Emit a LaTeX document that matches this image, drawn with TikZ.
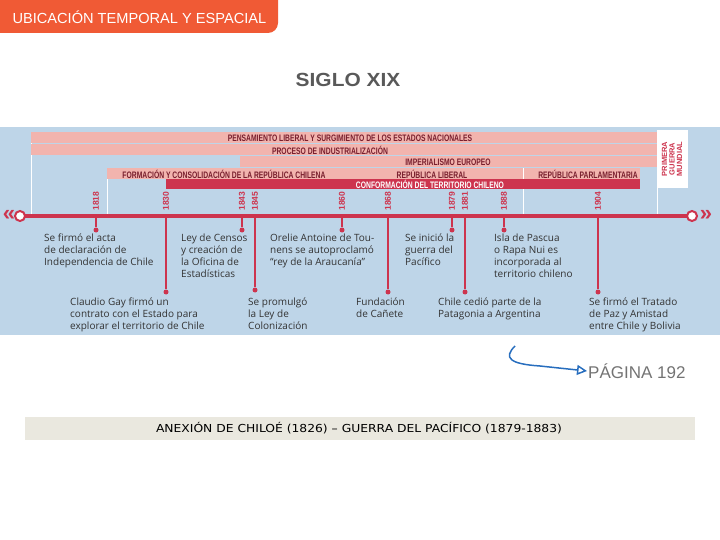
\documentclass[tikz,border=0pt]{standalone}
\usepackage{fontspec}
\setmainfont{Liberation Sans}
\newfontfamily\descfont{Open Sans}
\newfontfamily\barfont{DejaVu Sans}
\usetikzlibrary{arrows.meta,positioning}
\definecolor{tabred}{RGB}{240,90,53}
\definecolor{panel}{RGB}{190,213,232}
\definecolor{band}{RGB}{242,180,174}
\definecolor{dark}{RGB}{205,52,78}
\definecolor{bartext}{RGB}{120,30,45}
\definecolor{arrowblue}{RGB}{40,110,190}
\definecolor{barbg}{RGB}{234,232,223}
\tikzset{
  bandlbl/.style={font=\bfseries\fontsize{9.4}{9.4}\selectfont, text=bartext, inner sep=0pt},
  year/.style={font=\bfseries\fontsize{8.5}{8.5}\selectfont, text=dark, rotate=90, inner sep=0pt},
  dot/.style={circle, fill=dark, inner sep=0pt, minimum size=5pt},
  desc/.style={font=\descfont\fontsize{10}{12}\selectfont, text=black!80, align=left, anchor=north west, inner sep=0pt}
}
\begin{document}
\begin{tikzpicture}[x=1pt, y=-1pt]
    \useasboundingbox (0,0) rectangle (720,540);
    % Header tab
    \fill[tabred, rounded corners=10pt] (-10,-10) -- (278,-10) -- (278,33) -- (-10,33) -- cycle;
    \node[anchor=west, text=white, font=\fontsize{14.6}{14.6}\selectfont] (header) at (9,17) {UBICACIÓN TEMPORAL Y ESPACIAL};
    \node[font=\bfseries\fontsize{19}{19}\selectfont, text=black!65] (siglo) at (348,80) {\scalebox{1.1}[1]{SIGLO XIX}};

    % Panel
    \fill[panel] (0,127) rectangle (720,335);
    \draw[white, line width=1pt] (31,143) -- (31,215);
    \draw[white, line width=1pt] (107,179) -- (107,215);
    \draw[white, line width=1pt] (523,179) -- (523,215);
    \draw[white, line width=1pt] (657,188) -- (657,215);

    % Bands
    \fill[band] (31,132) rectangle (657,143.5);
    \node[bandlbl] (b1) at (350,138) {\scalebox{0.72}[1]{PENSAMIENTO LIBERAL Y SURGIMIENTO DE LOS ESTADOS NACIONALES}};
    \fill[band] (31,144.5) rectangle (657,155.5);
    \node[bandlbl] (b2) at (330,150) {\scalebox{0.72}[1]{PROCESO DE INDUSTRIALIZACIÓN}};
    \fill[band] (240,156.5) rectangle (657,167.5);
    \node[bandlbl] (b3) at (448,162) {\scalebox{0.72}[1]{IMPERIALISMO EUROPEO}};
    \fill[band] (107,168.5) rectangle (640,179);
    \draw[white, line width=0.6pt] (523,168.5) -- (523,179);
    \node[bandlbl] (b4) at (224,174) {\scalebox{0.72}[1]{FORMACIÓN Y CONSOLIDACIÓN DE LA REPÚBLICA CHILENA}};
    \node[bandlbl] (b5) at (432,174) {\scalebox{0.72}[1]{REPÚBLICA LIBERAL}};
    \node[bandlbl] (b6) at (588,174) {\scalebox{0.72}[1]{REPÚBLICA PARLAMENTARIA}};
    \fill[dark] (166,179) rectangle (640,189);
    \node[bandlbl, text=white] (b7) at (430,184) {\scalebox{0.72}[1]{CONFORMACIÓN DEL TERRITORIO CHILENO}};
    \fill[white] (657,130) rectangle (688,188);
    \node[bandlbl, text=dark, rotate=90, align=center, font=\bfseries\fontsize{7.5}{7.5}\selectfont] (guerra) at (672,159) {PRIMERA\\GUERRA\\MUNDIAL};

    % Timeline axis
    \draw[dark, line width=4pt] (18,216) -- (694,216);
    \node[circle, draw=dark, fill=white, line width=2pt, minimum size=10pt, inner sep=0pt] (lend) at (20,216) {};
    \node[circle, draw=dark, fill=white, line width=2pt, minimum size=10pt, inner sep=0pt] (rend) at (692,216) {};
    \node[text=dark, font=\bfseries\fontsize{22}{22}\selectfont] (lchev) at (9,215) {\guillemotleft};
    \node[text=dark, font=\bfseries\fontsize{22}{22}\selectfont] (rchev) at (706,215) {\guillemotright};

    % ticks and years
    \foreach \x/\yr/\len in {96/1818/230,166/1830/292,242/1843/230,255/1845/290,342/1860/230,388/1868/292,452/1879/230,465/1881/292,504/1888/230,598/1904/292} {
        \coordinate (t\yr) at (\x,216);
        \node[dot] (d\yr) at (\x,\len) {};
        \draw[dark, line width=1.3pt] (t\yr) -- (d\yr);
        \node[year] (y\yr) at (\x,201) {\yr};
    }

    % Events
    \node[desc] (e1818) at (44,234) {Se firmó el acta\\de declaración de\\Independencia de Chile};
    \node[desc] (e1830) at (70,298) {Claudio Gay firmó un\\contrato con el Estado para\\explorar el territorio de Chile};
    \node[desc] (e1843) at (181,234) {Ley de Censos\\y creación de\\la Oficina de\\Estadísticas};
    \node[desc] (e1845) at (248,298) {Se promulgó\\la Ley de\\Colonización};
    \node[desc] (e1860) at (270,234) {Orelie Antoine de Tou-\\nens se autoproclamó\\“rey de la Araucanía”};
    \node[desc] (e1868) at (356,298) {Fundación\\de Cañete};
    \node[desc] (e1879) at (405,234) {Se inició la\\guerra del\\Pacífico};
    \node[desc] (e1881) at (438,298) {Chile cedió parte de la\\Patagonia a Argentina};
    \node[desc] (e1888) at (494,234) {Isla de Pascua\\o Rapa Nui es\\incorporada al\\territorio chileno};
    \node[desc] (e1904) at (589,298) {Se firmó el Tratado\\de Paz y Amistad\\entre Chile y Bolivia};

    % Page reference
    \node[anchor=west, text=black!55, font=\fontsize{17}{17}\selectfont, inner sep=1pt] (pagina) at (587,371) {PÁGINA 192};
    \coordinate (arrstart) at (515,346);
    \draw[arrowblue, line width=1.5pt, -{Triangle[open, length=10pt, width=10pt]}] (arrstart) .. controls (503,358) and (510,364) .. (540,366) -- (pagina.west);

    % Bottom bar
    \fill[barbg] (25,417) rectangle (695,440);
    \node[font=\barfont\fontsize{11}{11}\selectfont] (anexion) at (359,428.5) {\scalebox{1.12}[1]{ANEXIÓN DE CHILOÉ (1826) – GUERRA DEL PACÍFICO (1879-1883)}};
\end{tikzpicture}
\end{document}
